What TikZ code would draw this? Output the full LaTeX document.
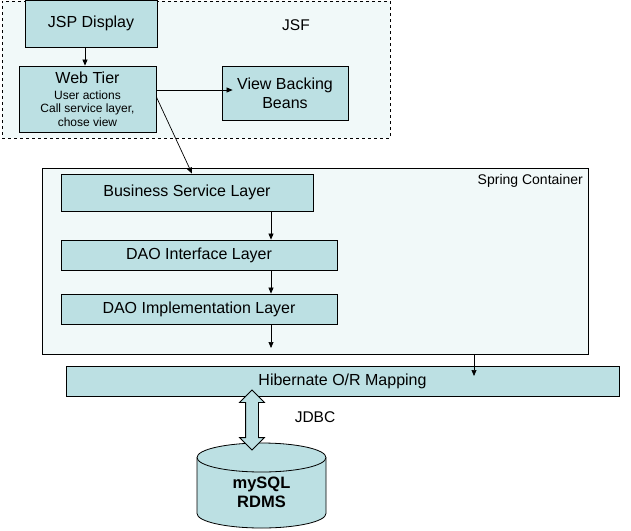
\documentclass[tikz,border=0pt]{standalone}
\usepackage{fontspec}
\setmainfont{Liberation Sans}
\usetikzlibrary{arrows.meta,shapes.arrows,calc}
\definecolor{boxfill}{RGB}{188,224,227}
\definecolor{panefill}{RGB}{241,249,249}
\begin{document}
\begin{tikzpicture}[x=1pt,y=1pt,
  box/.style={draw=black, fill=boxfill, line width=0.8pt, inner sep=0pt, align=center,
    font=\fontsize{16}{19}\selectfont},
  pane/.style={draw=black, fill=panefill, line width=0.8pt, inner sep=0pt},
  lbl/.style={inner sep=0pt, align=center},
  arr/.style={-{Triangle[length=6pt,width=5pt]}, line width=0.7pt}]
\useasboundingbox (0,0) rectangle (631,-530);

% JSF pane
\node[pane, dashed, dash pattern=on 3pt off 3pt, minimum width=388, minimum height=137] (jsf) at (196,-69.5) {};
\node[lbl, font=\fontsize{15.5}{18}\selectfont] (jsflabel) at (296,-25) {JSF};

\node[box, minimum width=132, minimum height=46.4] (jsp) at (91,-23.8) {JSP Display};
\node[box, minimum width=137, minimum height=66, font=\fontsize{12}{13.5}\selectfont] (web) at (87.5,-99)
  {{\fontsize{16}{18}\selectfont Web Tier}\\[2.5pt] User actions\\ Call service layer,\\ chose view};
\node[box, minimum width=126, minimum height=54] (vbb) at (285,-93) {View Backing\\Beans};

% Spring container
\node[pane, minimum width=546, minimum height=186] (spring) at (315,-261) {};
\node[lbl, anchor=east, font=\fontsize{14}{16}\selectfont] (springlabel) at (583,-181) {Spring Container};

\node[box, minimum width=252, minimum height=37] (biz) at (187,-192.5) {Business Service Layer};
\node[box, minimum width=276, minimum height=30] (daoi) at (199,-255) {DAO Interface Layer};
\node[box, minimum width=276, minimum height=30] (daoimpl) at (199,-309) {DAO Implementation Layer};

\node[box, minimum width=553, minimum height=30] (hib) at (342.5,-381) {Hibernate O/R Mapping};

% connectors
\draw[arr] ([xshift=-6pt]jsp.south) -- ([xshift=-6pt]jsp.south |- web.north);
\draw[arr] ([yshift=9pt]web.east) -- ([yshift=3pt,xshift=11pt]vbb.west);
\draw[arr] ([yshift=2pt]web.east) -- ([xshift=5pt]biz.north);
\draw[arr] ([xshift=84pt]biz.south) -- ([xshift=84pt]biz.south |- daoi.north);
\draw[arr] ([xshift=72pt]daoi.south) -- ([xshift=72pt]daoimpl.north);
\coordinate (implend) at (271,-348);
\draw[arr] ([xshift=72pt]daoimpl.south) -- (implend);
\coordinate (hibend) at (474,-376);
\draw[arr] (spring.south -| hibend) -- (hibend);

% database cylinder
\draw[line width=0.8pt, fill=boxfill] (197,-457.5) -- (197,-513.5)
  arc[start angle=180, end angle=360, x radius=64.5, y radius=14.5] -- (326,-457.5)
  arc[start angle=0, end angle=180, x radius=64.5, y radius=14.5] -- cycle;
\draw[line width=0.8pt] (197,-457.5) arc[start angle=180, end angle=360, x radius=64.5, y radius=14.5];
\node[lbl, font=\bfseries\fontsize{16.5}{19}\selectfont] (db) at (261.5,-492.5) {mySQL\\RDMS};

% JDBC double arrow
\node[double arrow, draw=black, fill=boxfill, line width=0.8pt, rotate=90, inner xsep=0pt, inner ysep=6pt,
  minimum height=60, minimum width=24, double arrow head extend=6pt] (jdbc) at (252,-420) {};
\node[lbl, font=\fontsize{15.5}{18}\selectfont] (jdbclabel) at (315,-417) {JDBC};
\end{tikzpicture}
\end{document}
